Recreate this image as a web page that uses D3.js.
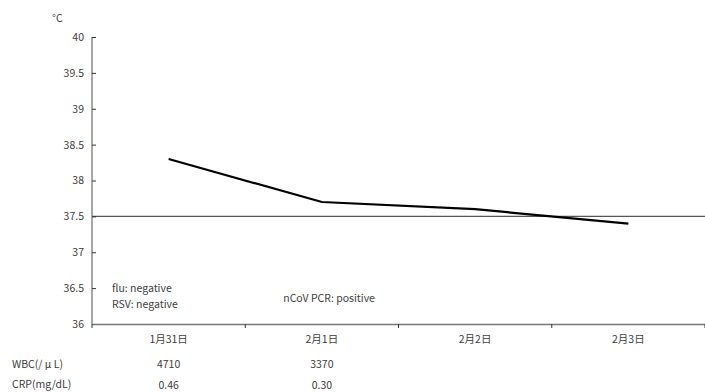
<!DOCTYPE html>
<html><head><meta charset="utf-8">
<script src="https://cdn.jsdelivr.net/npm/d3@7"></script>
<style>body{margin:0;background:#fff}svg{display:block}text{font-family:"Noto Sans CJK JP","Noto Sans",sans-serif;fill:#404040}</style>
</head><body><div id="chart"></div>
<script>
const categories = ["1月31日","2月1日","2月2日","2月3日"];
const temps = [38.3, 37.7, 37.6, 37.4];
const yTicks = [36, 36.5, 37, 37.5, 38, 38.5, 39, 39.5, 40];
const refLine = 37.5;
const wbc = ["4710","3370","",""];
const crp = ["0.46","0.30","",""];
const notes = [
  {cat:0, lines:["flu: negative","RSV: negative"]},
  {cat:1, lines:["nCoV PCR: positive"]}
];

(function(){
const W=705,H=392;
const svg=d3.select("#chart").append("svg").attr("width",W).attr("height",H);
const mL=92,mR=705,mT=37,mB=324;
const x=d3.scaleBand().domain(categories).range([mL,mR]);
const y=d3.scaleLinear().domain([36,40]).range([mB,mT]);
const fs=10.5;

svg.append("line").attr("x1",mL).attr("x2",mR).attr("y1",y(refLine)).attr("y2",y(refLine))
  .attr("stroke","#555").attr("stroke-width",1.2);

const ya=svg.append("g").attr("transform",`translate(${mL},0)`)
  .call(d3.axisRight(y).tickValues(yTicks).tickSize(4).tickFormat(d=>d));
ya.select(".domain").attr("stroke","#777").attr("stroke-width",1.3).attr("d",`M0,${mT}V${mB}`);
ya.selectAll(".tick line").attr("stroke","#333");
ya.selectAll(".tick text").attr("x",-8).attr("text-anchor","end").attr("font-size",fs).attr("fill","#404040");
svg.append("text").attr("x",52).attr("y",22).attr("font-size",fs).text("°C");

const xa=svg.append("g").attr("transform",`translate(0,${mB})`)
  .call(d3.axisBottom(x).tickSize(0));
xa.select(".domain").attr("stroke","#777").attr("stroke-width",1.3);
xa.selectAll(".tick text").attr("dy",0).attr("y",19).attr("font-size",fs).attr("fill","#404040");
const bounds=categories.map(c=>x(c)).concat([mR]);
svg.selectAll(".xt").data(bounds).enter().append("line")
  .attr("x1",d=>d).attr("x2",d=>d).attr("y1",mB).attr("y2",mB+4).attr("stroke","#333");

const line=d3.line().x((d,i)=>x(categories[i])+x.bandwidth()/2).y(d=>y(d));
svg.append("path").datum(temps).attr("d",line).attr("fill","none").attr("stroke","#000").attr("stroke-width",2.2);

notes.forEach(n=>{
  const g=svg.append("g");
  const x0 = n.cat===0 ? mL+20 : x(categories[n.cat])+38;
  const y0 = n.lines.length===2 ? 292 : 302;
  n.lines.forEach((t,i)=>g.append("text").attr("x",x0).attr("y",y0+i*15.5).attr("font-size",fs).text(t));
});

svg.append("text").attr("x",12).attr("y",368).attr("font-size",fs).text("WBC(/ μ L)");
svg.append("text").attr("x",12).attr("y",388).attr("font-size",fs).text("CRP(mg/dL)");
categories.forEach((c,i)=>{
  const cx=x(c)+x.bandwidth()/2;
  svg.append("text").attr("x",cx).attr("y",368).attr("text-anchor","middle").attr("font-size",fs).text(wbc[i]);
  svg.append("text").attr("x",cx).attr("y",389).attr("text-anchor","middle").attr("font-size",fs).text(crp[i]);
});
})();
</script></body></html>
